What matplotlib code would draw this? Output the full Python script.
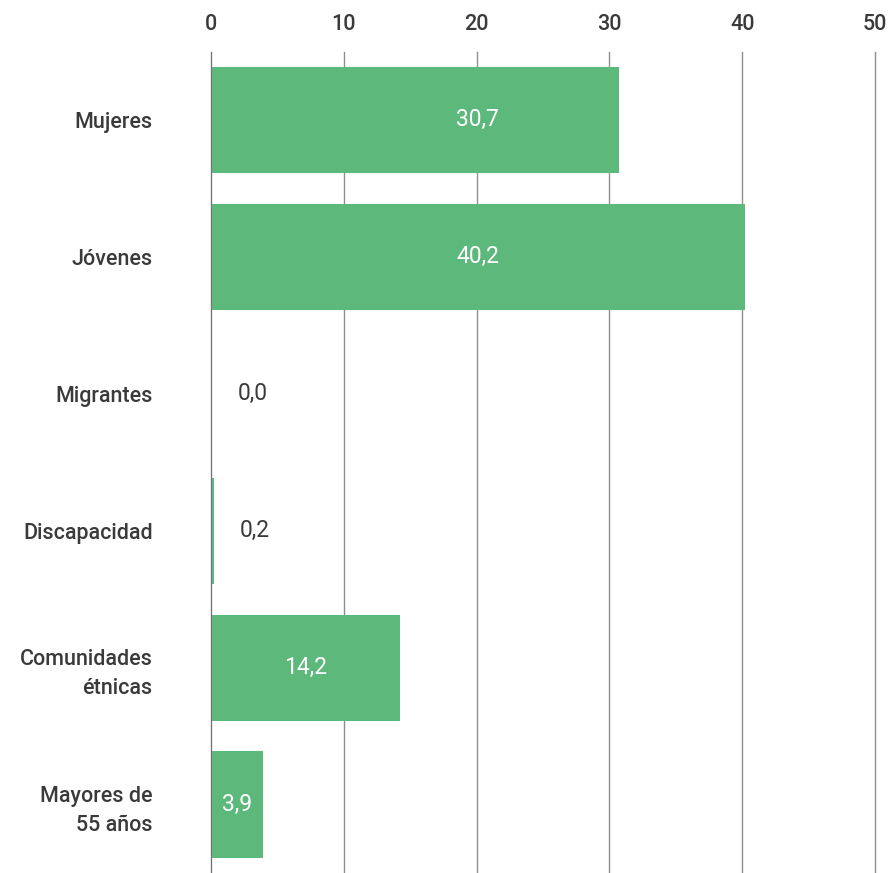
import matplotlib
matplotlib.use("Agg")
import matplotlib.pyplot as plt

categories = ["Mujeres", "Jóvenes", "Migrantes", "Discapacidad",
              "Comunidades\nétnicas", "Mayores de\n55 años"]
values = [30.7, 40.2, 0.0, 0.2, 14.2, 3.9]
value_labels = ["30,7", "40,2", "0,0", "0,2", "14,2", "3,9"]
xticks = [0, 10, 20, 30, 40, 50]

GREEN = "#5db87b"
DARK = "#3a3a3a"
FONT = "Roboto"

fig = plt.figure(figsize=(8.93, 8.73), dpi=100)
ax = fig.add_axes([211 / 893, 0.0, (875 - 211) / 893, 1 - 51.5 / 873])

ypos = list(range(len(categories)))
ax.barh(ypos, values, height=0.775, color=GREEN, zorder=3)

ax.set_xlim(0, 50)
ax.set_ylim(len(categories) - 0.5, -0.5)

ax.set_xticks(xticks)
ax.set_xticklabels([str(t) for t in xticks], fontsize=15.5, color=DARK,
                   family=FONT, fontweight="medium")
ax.xaxis.tick_top()
ax.tick_params(axis="x", length=0, pad=12)
ax.set_yticks(ypos)
ax.set_yticklabels(categories, fontsize=15.5, color=DARK, family=FONT,
                   fontweight="medium", linespacing=1.5)
ax.tick_params(axis="y", length=0, pad=42)

for s in ax.spines.values():
    s.set_visible(False)
ax.grid(axis="x", color="#8f8f8f", linewidth=1.0, zorder=0)
for gl in ax.xaxis.get_gridlines():
    gl.set_clip_on(False)
ax.axvline(0, color="#6f6f6f", linewidth=1.3, zorder=4)

vmax = max(values)
for y, v, lab in zip(ypos, values, value_labels):
    if v >= 3:
        # large bars centred; the two longest share the same label position
        x = vmax / 2 if v >= 30 else v / 2
        ax.text(x, y, lab, ha="center", va="center", color="white",
                fontsize=16.5, family=FONT, zorder=5)
    else:
        ax.annotate(lab, (v, y), xytext=(19, 0), textcoords="offset points",
                    ha="left", va="center", color=DARK, fontsize=16.5,
                    family=FONT, zorder=5)

fig.savefig("out.png", dpi=100)
